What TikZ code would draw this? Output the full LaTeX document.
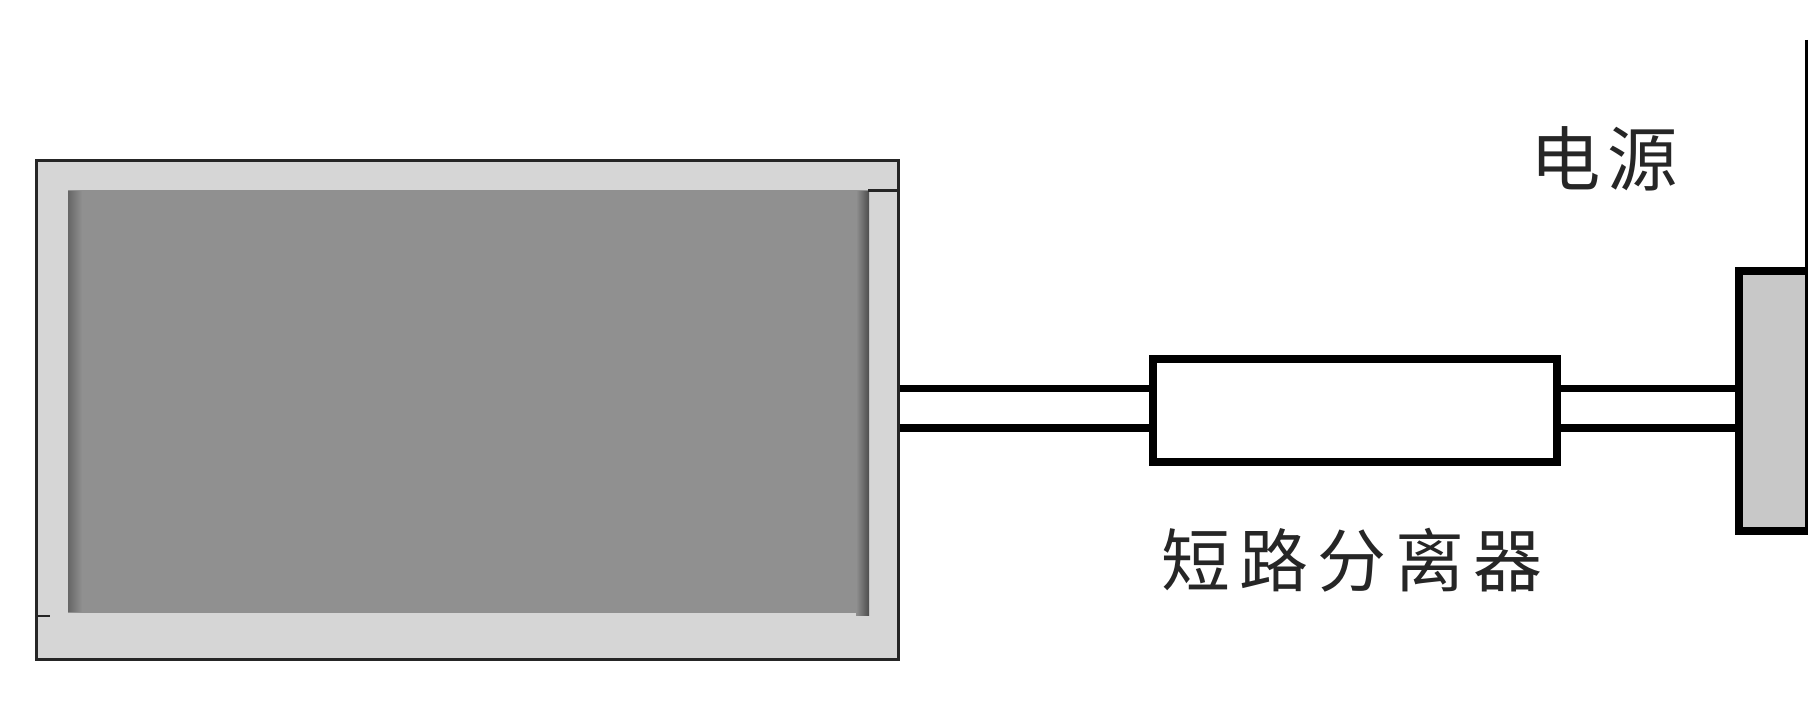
\documentclass[tikz,border=0pt]{standalone}
\usepackage{fontspec}
\newfontfamily\cjk{Noto Sans CJK SC}
\definecolor{framegray}{HTML}{D6D6D6}
\definecolor{screengray}{HTML}{909090}
\definecolor{blockgray}{HTML}{C8C8C8}
\begin{document}
\begin{tikzpicture}[x=0.01cm,y=-0.01cm,
    wire/.style={line width=0.075cm},
    edge/.style={draw=black!85,line width=0.028cm},
    label/.style={inner sep=0pt,text=black!85},
    flat/.style={inner sep=0pt,outer sep=0pt,anchor=north west}]
    \useasboundingbox (0,0) rectangle (1808,704);

    % panel
    \node (panel) [edge,fill=framegray,minimum width=8.61cm,minimum height=4.98cm,inner sep=0pt] at (467.5,410) {};
    \node (screen) [flat,fill=screengray,minimum width=8.01cm,minimum height=4.23cm] at (68,190) {};
    \shade[left color=black!60,right color=screengray] (68,192) rectangle (82,612);
    \shade[left color=screengray,right color=black!70] (856,192) rectangle (869,616);
    \node (side) [flat,fill=framegray,minimum width=0.27cm,minimum height=4.24cm] at (870,193) {};
    \draw[edge] (868,190.5) -- (898,190.5);
    \draw[edge] (37,616) -- (50,616);

    % separator and supply block
    \node (sep) [draw,line width=0.08cm,fill=white,minimum width=4.04cm,minimum height=1.02cm,inner sep=0pt] at (1355,410.5) {};
    \node (block) [draw,line width=0.08cm,fill=blockgray,anchor=north west,minimum width=0.7cm,minimum height=2.6cm,inner sep=0pt] at (1735,267) {};

    \coordinate (wa) at (0,388.5);
    \coordinate (wb) at (0,428);
    \draw[wire] (panel.east |- wa) -- (sep.west |- wa);
    \draw[wire] (panel.east |- wb) -- (sep.west |- wb);
    \draw[wire] (sep.east |- wa) -- (block.west |- wa);
    \draw[wire] (sep.east |- wb) -- (block.west |- wb);

    \coordinate (top) at (1806.5,40);
    \draw[line width=0.03cm] (top) -- (top |- block.north);

    \draw (1604,159) node(supply) [label,font=\cjk\fontsize{20}{21}\selectfont] {电\hspace{2pt}源};
    \draw (1352,560) node(name) [label,font=\cjk\fontsize{19.6}{21}\selectfont] {短\hspace{2.6pt}路\hspace{2.6pt}分\hspace{2.6pt}离\hspace{2.6pt}器};
\end{tikzpicture}
\end{document}
